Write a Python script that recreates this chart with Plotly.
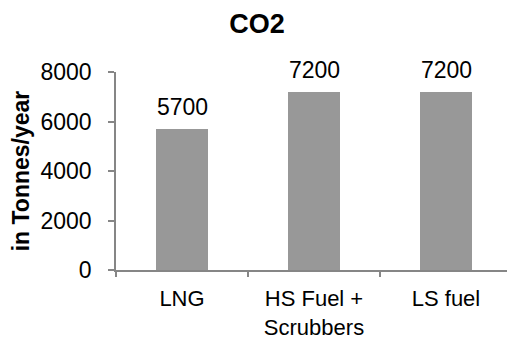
import plotly.graph_objects as go

categories = ["LNG", "HS Fuel +<br>Scrubbers", "LS fuel"]
co2_values = [5700, 7200, 7200]
y_ticks = [0, 2000, 4000, 6000, 8000]

W, H = 507, 338
left, top, bottom = 116, 72, 68
cat_px = 132  # pixel width of one category slot
x_max = (W - left) / cat_px - 0.5

font = "Liberation Sans, Arial, sans-serif"
axis_col = "#868686"
fs = 23

fig = go.Figure(
    go.Bar(
        x=list(range(len(categories))),
        y=co2_values,
        width=0.395,
        marker=dict(color="#989898", line=dict(width=0)),
        hoverinfo="skip",
    )
)

for i, v in enumerate(co2_values):
    fig.add_annotation(
        x=i, y=v, text=str(v), showarrow=False,
        yanchor="bottom", yshift=7,
        font=dict(family=font, size=fs, color="#000000"),
    )

fig.update_layout(
    width=W, height=H,
    margin=dict(l=left, r=0, t=top, b=bottom, pad=0, autoexpand=False),
    paper_bgcolor="white", plot_bgcolor="white",
    showlegend=False,
    bargap=0,
    title=dict(
        text="<b>CO2</b>", x=257 / W, xanchor="center",
        y=1 - 24 / H, yanchor="middle",
        font=dict(family=font, size=27, color="#000000"),
    ),
    xaxis=dict(
        range=[-0.5, x_max], automargin=False,
        tickmode="array",
        tickvals=list(range(len(categories))),
        ticktext=categories,
        showgrid=False, zeroline=False,
        showline=True, linecolor=axis_col, linewidth=1.5,
        ticks="", tickfont=dict(family=font, size=22, color="#000000"),
        ticklabelstandoff=8,
    ),
    yaxis=dict(
        range=[0, 8000], automargin=False,
        tickmode="array", tickvals=y_ticks,
        showgrid=False, zeroline=False,
        showline=True, linecolor=axis_col, linewidth=1.5,
        ticks="outside", ticklen=6, tickcolor=axis_col, tickwidth=1.5,
        tickfont=dict(family=font, size=fs, color="#000000"),
        ticklabelstandoff=12,
        title=dict(
            text="<b>in Tonnes/year</b>",
            font=dict(family=font, size=fs, color="#000000"),
            standoff=4,
        ),
    ),
)

# category boundary tick marks below the x axis
fig.update_layout(
    xaxis2=dict(
        overlaying="x", matches="x", range=[-0.5, x_max], automargin=False,
        tickmode="array", tickvals=[-0.5, 0.5, 1.5, 2.5],
        ticks="outside", ticklen=6, tickcolor=axis_col, tickwidth=1.5,
        showticklabels=False, showgrid=False, zeroline=False, showline=False,
        anchor="y", side="bottom",
    )
)
fig.add_trace(go.Scatter(x=[0], y=[0], xaxis="x2", mode="markers",
                         marker=dict(opacity=0), hoverinfo="skip"))

fig.write_html("out.html")
